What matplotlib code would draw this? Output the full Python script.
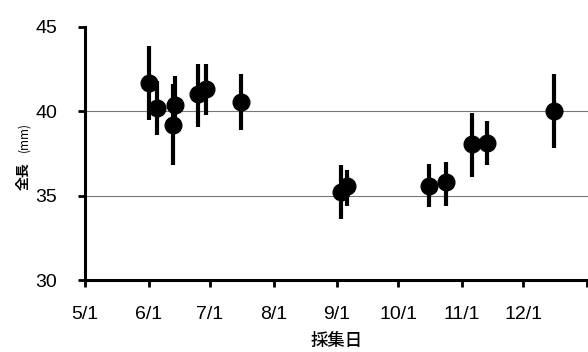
import numpy as np
import pandas as pd
import matplotlib
matplotlib.use('Agg')
import matplotlib.pyplot as plt

plt.rcParams['font.family'] = ['Liberation Sans', 'Noto Sans CJK JP', 'DejaVu Sans']
jp = ['Noto Sans CJK JP', 'DejaVu Sans']

# sampling dates (month/day), mean total length and error (mm)
dates = ['6/1', '6/5', '6/13', '6/14', '6/25', '6/29', '7/16',
         '9/3', '9/6', '10/16', '10/24', '11/6', '11/13', '12/16']
mean_len = [41.7, 40.2, 39.2, 40.4, 41.0, 41.3, 40.55,
            35.2, 35.55, 35.6, 35.8, 38.05, 38.1, 40.0]
err_lo = [2.2, 1.6, 2.4, 1.7, 1.9, 1.5, 1.65,
          1.6, 1.15, 1.3, 1.4, 1.95, 1.3, 2.15]
err_hi = [2.2, 1.6, 2.4, 1.7, 1.8, 1.5, 1.65,
          1.6, 0.95, 1.3, 1.2, 1.85, 1.3, 2.2]

tick_dates = ['5/1', '6/1', '7/1', '8/1', '9/1', '10/1', '11/1', '12/1', '1/1']
tick_labels = ['5/1', '6/1', '7/1', '8/1', '9/1', '10/1', '11/1', '12/1', '']

start = pd.Timestamp('2001-05-01')
def to_day(s):
    m, d = [int(v) for v in s.split('/')]
    y = 2002 if m < 5 else 2001
    return (pd.Timestamp(year=y, month=m, day=d) - start).days

x = np.array([to_day(s) for s in dates])
xt = [to_day(s) for s in tick_dates]

fig = plt.figure(figsize=(5.88, 3.52), dpi=100)
ax = fig.add_axes([0.1446, 0.2045, 0.8554, 0.7188])

for yv in [35, 40]:
    ax.axhline(yv, color='#777777', lw=0.8, zorder=1)

ax.errorbar(x, mean_len, yerr=[err_lo, err_hi], fmt='o', color='black',
            ms=12, elinewidth=3, capsize=0, zorder=3)

ax.set_xlim(0, 245.5)
ax.set_ylim(30, 45)
ax.set_xticks(xt)
ax.set_xticklabels(tick_labels)
ax.set_yticks([30, 35, 40, 45])

for s in ['top', 'right']:
    ax.spines[s].set_visible(False)
for s in ['left', 'bottom']:
    ax.spines[s].set_linewidth(2.2)
ax.tick_params(axis='both', direction='out', length=5, width=2, labelsize=14)
ax.tick_params(axis='x', pad=14)
ax.tick_params(axis='y', pad=15)

# y label: 全長 plus smaller (mm)
fig.text(24 / 588, 1 - 176 / 352, '全長', rotation=90, ha='center', va='center',
         fontsize=10, fontweight='bold', family=jp)
fig.text(24 / 588, 1 - 137 / 352, '(mm)', rotation=90, ha='center', va='center',
         fontsize=8.5, family=jp)
ax.set_xlabel('採集日', fontsize=12.5, fontweight='medium', family=jp, labelpad=6)

fig.savefig('out.png', dpi=100)
